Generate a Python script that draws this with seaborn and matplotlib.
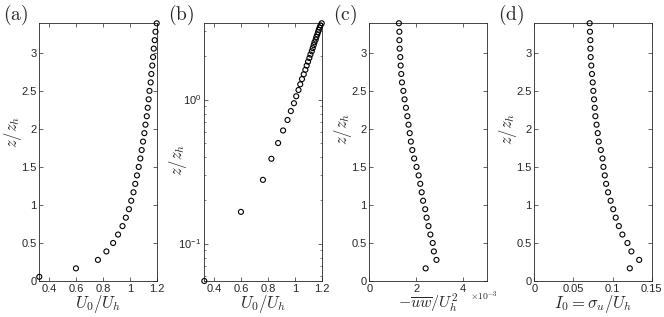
import numpy as np
import matplotlib
matplotlib.use("Agg")
import matplotlib.pyplot as plt
import matplotlib.ticker as mticker
import seaborn as sns

# heights z/z_h
z_all = [0.055, 0.166, 0.277, 0.388, 0.499, 0.610, 0.721, 0.832, 0.943, 1.054,
         1.165, 1.276, 1.387, 1.498, 1.609, 1.720, 1.831, 1.942, 2.053, 2.164,
         2.275, 2.386, 2.497, 2.608, 2.719, 2.830, 2.941, 3.052, 3.163, 3.274,
         3.385]
z_upper = z_all[1:]

# mean velocity U0/Uh
u0 = [0.325, 0.598, 0.762, 0.825, 0.875, 0.912, 0.945, 0.970, 0.993, 1.010,
      1.027, 1.040, 1.053, 1.066, 1.078, 1.088, 1.098, 1.108, 1.116, 1.126,
      1.133, 1.140, 1.146, 1.155, 1.160, 1.167, 1.173, 1.178, 1.185, 1.191,
      1.200]

# shear stress -uw/Uh^2 (x 1e-3)
uw = [2.40, 2.86, 2.75, 2.70, 2.60, 2.52, 2.44, 2.38, 2.29, 2.23,
      2.17, 2.10, 2.01, 1.91, 1.83, 1.77, 1.72, 1.67, 1.62, 1.56,
      1.50, 1.45, 1.39, 1.36, 1.335, 1.32, 1.29, 1.28, 1.28, 1.26]

# turbulence intensity I0
i0 = [0.122, 0.134, 0.124, 0.119, 0.1125, 0.108, 0.104, 0.1008, 0.0975, 0.0942,
      0.0917, 0.0900, 0.0883, 0.0871, 0.0850, 0.0823, 0.0810, 0.0795, 0.0780, 0.0772,
      0.0763, 0.0754, 0.0746, 0.0737, 0.0728, 0.0720, 0.0716, 0.0716, 0.0711, 0.0707]

sns.set_theme(style="ticks")
plt.rcParams["font.family"] = ["Liberation Sans", "DejaVu Sans"]
plt.rcParams["mathtext.fontset"] = "cm"

grey = "#262626"
fig = plt.figure(figsize=(6.64, 3.17), dpi=100)

lefts = [0.0592, 0.3077, 0.5562, 0.8047]
w, h, b = 0.1768, 0.813, 0.1136
axes = [fig.add_axes([l, b, w, h]) for l in lefts]

panels = [
    (axes[0], u0, z_all, r"$U_0/U_h$", "(a)", 0.58, -0.046, 12),
    (axes[1], u0, z_all, r"$U_0/U_h$", "(b)", 0.47, -0.046, 12),
    (axes[2], uw, z_upper, r"$-\overline{uw}/U_h^2$", "(c)", 0.59, -0.041, 11.5),
    (axes[3], i0, z_upper, r"$I_0=\sigma_u/U_h$", "(d)", 0.59, -0.046, 12),
]

fmt = mticker.FuncFormatter(lambda v, p: "%g" % v)

for ax, xs, zs, xlab, tag, ylab_y, xlab_y, xlab_fs in panels:
    sns.scatterplot(x=xs, y=zs, ax=ax, marker="o", s=13, facecolor="none",
                    edgecolor="black", linewidth=0.8, clip_on=False, zorder=3)
    ax.set_xlabel(xlab, fontsize=xlab_fs)
    ax.xaxis.set_label_coords(0.5, xlab_y)
    ax.set_ylabel(r"$z/z_h$", fontsize=12)
    ax.yaxis.set_label_coords(-0.13, ylab_y)
    ax.tick_params(direction="in", top=True, right=True, length=3, width=0.5,
                   color=grey, labelcolor=grey, labelsize=8, pad=2)
    ax.tick_params(which="minor", direction="in", top=True, right=True,
                   length=1.5, width=0.4, color=grey)
    for sp in ax.spines.values():
        sp.set_linewidth(0.6)
        sp.set_color(grey)
    ax.text(-0.31, 1.0 + 20 / 257.7, r"$\mathrm{" + tag + "}$", transform=ax.transAxes,
            fontsize=14, ha="left", va="top")

for ax in (axes[0], axes[1]):
    ax.set_xlim(min(u0), 1.2)
    ax.set_xticks([0.4, 0.6, 0.8, 1.0, 1.2])
    ax.xaxis.set_major_formatter(fmt)

axes[0].set_ylim(0, max(z_all))
axes[0].set_yticks([0, 0.5, 1, 1.5, 2, 2.5, 3])
axes[0].yaxis.set_major_formatter(fmt)

axes[1].set_yscale("log")
axes[1].set_ylim(min(z_all), max(z_all))
axes[1].yaxis.set_minor_formatter(mticker.NullFormatter())

axes[2].set_xlim(0, 5)
axes[2].set_xticks([0, 2, 4])
axes[2].text(0.86, -0.058, r"$\times 10^{-3}$", transform=axes[2].transAxes,
             fontsize=7, color=grey, ha="left", va="center")

axes[3].set_xlim(0, 0.15)
axes[3].set_xticks([0, 0.05, 0.1, 0.15])

for ax in (axes[2], axes[3]):
    ax.set_ylim(0, max(z_all))
    ax.set_yticks([0, 0.5, 1, 1.5, 2, 2.5, 3])
    ax.yaxis.set_major_formatter(fmt)
    ax.xaxis.set_major_formatter(fmt)

fig.savefig("out.png", dpi=100)
plt.close(fig)
